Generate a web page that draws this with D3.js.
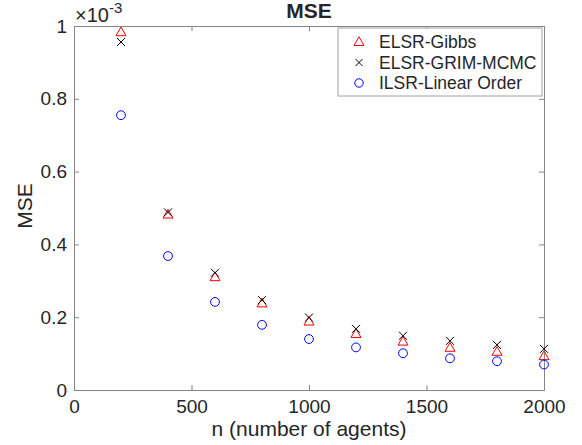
<!DOCTYPE html>
<html>
<head>
<meta charset="utf-8">
<script src="https://cdn.jsdelivr.net/npm/d3@7"></script>
<style>
  body { margin: 0; background: #fff; }
  text { font-family: "Liberation Sans", Arial, sans-serif; fill: #262626; }
</style>
</head>
<body>
<div id="chart"></div>
<script>
// data (MSE in units of 1e-3)
const nValues = [200, 400, 600, 800, 1000, 1200, 1400, 1600, 1800, 2000];
const gibbs = [0.983, 0.482, 0.310, 0.238, 0.188, 0.154, 0.133, 0.116, 0.105, 0.093];
const grim = [0.956, 0.488, 0.322, 0.247, 0.199, 0.168, 0.149, 0.135, 0.124, 0.113];
const ilsr = [0.755, 0.368, 0.242, 0.179, 0.140, 0.117, 0.101, 0.087, 0.079, 0.070];
const xTicks = [0, 500, 1000, 1500, 2000];
const yTicks = [0, 0.2, 0.4, 0.6, 0.8, 1];
const seriesNames = ["ELSR-Gibbs", "ELSR-GRIM-MCMC", "ILSR-Linear Order"];

const W = 582, H = 445;
const margin = {top: 26, right: 38, bottom: 55, left: 74};
const width = W - margin.left - margin.right,
      height = H - margin.top - margin.bottom;

const svg = d3.select("#chart").append("svg")
    .attr("width", W)
    .attr("height", H);

const g = svg.append("g")
    .attr("transform", "translate(" + margin.left + "," + margin.top + ")");

const x = d3.scaleLinear().domain([0, 2000]).range([0, width]);
const y = d3.scaleLinear().domain([0, 1]).range([height, 0]);

const axisColor = "#858585";
const tickLen = 5;

// marker shapes (MATLAB-like)
const triPath = "M0,-5.2L5,3.5L-5,3.5Z";
const crossPath = "M-4,-4L4,4M-4,4L4,-4";

// axes (ticks pointing inward, box on all sides)
const xAxis = g.append("g")
    .attr("transform", "translate(0," + height + ")")
    .call(d3.axisBottom(x).tickValues(xTicks).tickSizeInner(-tickLen).tickSizeOuter(0).tickPadding(10)
        .tickFormat(d3.format("d")));
const yAxis = g.append("g")
    .call(d3.axisLeft(y).tickValues(yTicks).tickSizeInner(-tickLen).tickSizeOuter(0).tickPadding(7)
        .tickFormat(d => d === 0 || d === 1 ? d3.format("d")(d) : d3.format(".1f")(d)));
const xTop = g.append("g")
    .call(d3.axisTop(x).tickValues(xTicks).tickSizeInner(-tickLen).tickSizeOuter(0).tickFormat(""));
const yRight = g.append("g")
    .attr("transform", "translate(" + width + ",0)")
    .call(d3.axisRight(y).tickValues(yTicks).tickSizeInner(-tickLen).tickSizeOuter(0).tickFormat(""));

[xAxis, yAxis, xTop, yRight].forEach(a => {
    a.selectAll("path").attr("stroke", axisColor).attr("stroke-width", 1);
    a.selectAll("line").attr("stroke", axisColor);
    a.selectAll("text").style("font-size", "19px").attr("fill", "#262626");
});

// markers
g.append("g").selectAll("path")
    .data(nValues.map((n, i) => [n, gibbs[i]]))
    .join("path")
    .attr("transform", d => "translate(" + x(d[0]) + "," + y(d[1]) + ")")
    .attr("d", triPath)
    .attr("fill", "none").attr("stroke", "#ff0000").attr("stroke-width", 1);

g.append("g").selectAll("path")
    .data(nValues.map((n, i) => [n, grim[i]]))
    .join("path")
    .attr("transform", d => "translate(" + x(d[0]) + "," + y(d[1]) + ")")
    .attr("d", crossPath)
    .attr("fill", "none").attr("stroke", "#000").attr("stroke-width", 1);

g.append("g").selectAll("circle")
    .data(nValues.map((n, i) => [n, ilsr[i]]))
    .join("circle")
    .attr("cx", d => x(d[0]))
    .attr("cy", d => y(d[1]))
    .attr("r", 4.4)
    .attr("fill", "none").attr("stroke", "#0000ff").attr("stroke-width", 1);

// title & labels
svg.append("text").attr("x", margin.left + width / 2).attr("y", 18)
    .attr("text-anchor", "middle").style("font-size", "21px").style("font-weight", "bold")
    .attr("fill", "#000").text("MSE");
svg.append("text").attr("x", margin.left + width / 2).attr("y", 436)
    .attr("text-anchor", "middle").style("font-size", "21px").text("n (number of agents)");
svg.append("text").attr("transform", "translate(32," + (margin.top + height / 2 - 2) + ") rotate(-90)")
    .attr("text-anchor", "middle").style("font-size", "21px").text("MSE");

// exponent label
const exp = svg.append("text").attr("x", 75).attr("y", 22).style("font-size", "20px");
exp.append("tspan").text("\u00d710");
exp.append("tspan").attr("dy", -9).style("font-size", "15px").text("-3");

// legend
const lg = svg.append("g").attr("transform", "translate(338,28)");
lg.append("rect").attr("width", 204).attr("height", 68)
    .attr("fill", "#fff").attr("stroke", "#a0a0a0").attr("stroke-width", 1);
const legendItems = lg.selectAll("g.item").data(seriesNames).join("g")
    .attr("transform", (d, i) => "translate(21," + (14 + i * 20.5) + ")");
legendItems.each(function(d, i) {
    const it = d3.select(this);
    if (i === 0) {
        it.append("path").attr("d", triPath).attr("fill", "none").attr("stroke", "#ff0000");
    } else if (i === 1) {
        it.append("path").attr("d", "M-3.5,-3.5L3.5,3.5M-3.5,3.5L3.5,-3.5").attr("fill", "none").attr("stroke", "#000");
    } else {
        it.append("circle").attr("r", 4.2).attr("fill", "none").attr("stroke", "#0000ff");
    }
    it.append("text").attr("x", 20).attr("y", 6).style("font-size", "17.5px").attr("fill", "#000").text(d);
});
</script>
</body>
</html>
